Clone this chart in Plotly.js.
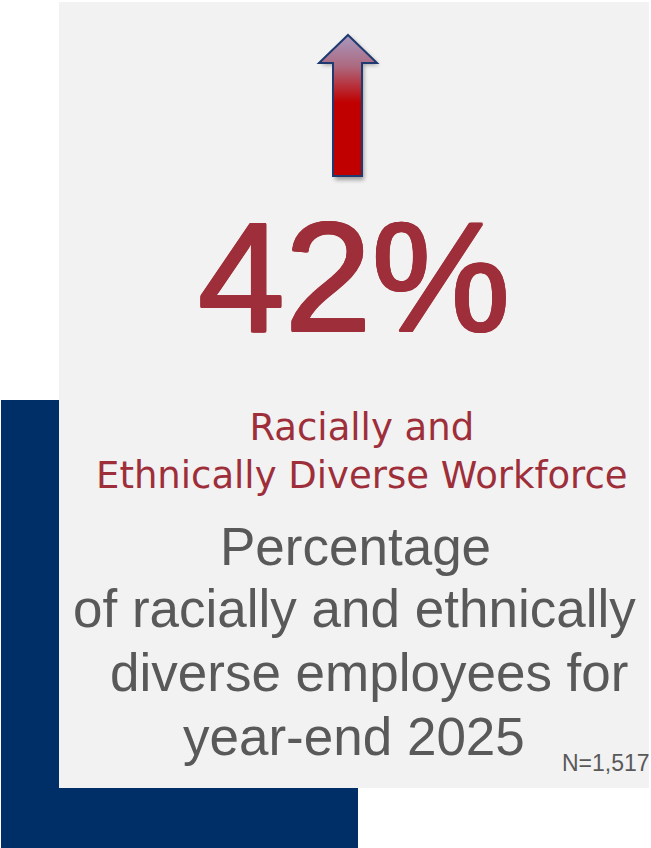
<!DOCTYPE html>
<html>
<head>
<meta charset="utf-8">
<script src="https://cdn.plot.ly/plotly-3.0.1.min.js"></script>
<style>html,body{margin:0;padding:0;background:#fff;}#chart{width:651px;height:848px;}</style>
</head>
<body>
<div id="chart"></div>
<script>
// ---- data ----
const headlineValue = [42];            // percent
const headlineSuffix = ['%'];
const categoryLines = ['Racially and', 'Ethnically Diverse Workforce'];
const descriptionLines = ['Percentage', 'of racially and ethnically', 'diverse employees for', 'year-end 2025'];
const sampleSize = [1517];

// ---- helpers (pixel -> paper) ----
const W = 651, H = 848;
const px = x => x / W;
const py = y => 1 - y / H;

const arrowSvg =
  '<svg xmlns="http://www.w3.org/2000/svg" width="70" height="160" viewBox="0 0 70 160">' +
  '<defs>' +
  '<linearGradient id="g" x1="0" y1="0" x2="0" y2="1">' +
  '<stop offset="0" stop-color="#a899c0"/>' +
  '<stop offset="0.22" stop-color="#ad6a80"/>' +
  '<stop offset="0.48" stop-color="#c00000"/>' +
  '<stop offset="1" stop-color="#c00000"/>' +
  '</linearGradient>' +
  '<filter id="s" x="-30%" y="-10%" width="160%" height="130%"><feGaussianBlur stdDeviation="2.2"/></filter>' +
  '</defs>' +
  '<path d="M34 4 L63 32 L48 32 L48 147 L19 147 L19 32 L5 32 Z" fill="#000" opacity="0.35" filter="url(#s)"/>' +
  '<path d="M32 2 L61 30 L46 30 L46 143 L17 143 L17 30 L3 30 Z" fill="url(#g)" stroke="#1f3a70" stroke-width="2" stroke-linejoin="miter"/>' +
  '</svg>';
const arrowSrc = 'data:image/svg+xml;base64,' + btoa(arrowSvg);

const red = '#9e2f3a';
const grey = '#595959';
const thicken = (c, d) => [
  d + 'px 0 0 ' + c, '-' + d + 'px 0 0 ' + c, '0 ' + d + 'px 0 ' + c, '0 -' + d + 'px 0 ' + c,
  (d * 0.75) + 'px ' + (d * 0.75) + 'px 0 ' + c, '-' + (d * 0.75) + 'px -' + (d * 0.75) + 'px 0 ' + c,
  (d * 0.75) + 'px -' + (d * 0.75) + 'px 0 ' + c, '-' + (d * 0.75) + 'px ' + (d * 0.75) + 'px 0 ' + c
].join(', ');

const annotations = [];
annotations.push({
  text: headlineValue[0] + headlineSuffix[0],
  x: px(354), y: py(277), xref: 'paper', yref: 'paper',
  xanchor: 'center', yanchor: 'middle', showarrow: false,
  font: {family: 'Liberation Sans, Arial, sans-serif', size: 156, color: red, shadow: thicken(red, 1.2)}
});
annotations.push({
  text: categoryLines.join('<br>'), x: px(362), y: py(451), xref: 'paper', yref: 'paper',
  xanchor: 'center', yanchor: 'middle', align: 'center', showarrow: false,
  font: {family: 'DejaVu Sans, sans-serif', size: 37, color: red}
});
const descY = [546, 608, 672, 736];
const descX = [355, 354, 369, 354];
descriptionLines.forEach((t, i) => annotations.push({
  text: t, x: px(descX[i]), y: py(descY[i]), xref: 'paper', yref: 'paper',
  xanchor: 'center', yanchor: 'middle', showarrow: false,
  font: {family: 'Liberation Sans, Arial, sans-serif', size: 53, color: grey}
}));
annotations.push({
  text: 'N=' + sampleSize[0].toLocaleString('en-US'),
  x: px(560), y: py(763), xref: 'paper', yref: 'paper',
  xanchor: 'left', yanchor: 'middle', showarrow: false,
  font: {family: 'Liberation Sans, Arial, sans-serif', size: 23, color: grey}
});

const layout = {
  width: W, height: H,
  margin: {l: 0, r: 0, t: 0, b: 0},
  paper_bgcolor: '#ffffff', plot_bgcolor: 'rgba(0,0,0,0)',
  xaxis: {visible: false, range: [0, 1], fixedrange: true},
  yaxis: {visible: false, range: [0, 1], fixedrange: true},
  showlegend: false,
  shapes: [
    {type: 'rect', xref: 'paper', yref: 'paper', x0: px(1), x1: px(358), y0: py(848), y1: py(400),
     fillcolor: '#002e66', line: {width: 0}, layer: 'below'},
    {type: 'rect', xref: 'paper', yref: 'paper', x0: px(59), x1: px(649), y0: py(788), y1: py(2),
     fillcolor: '#f2f2f2', line: {width: 0}, layer: 'below'}
  ],
  images: [{
    source: arrowSrc, xref: 'paper', yref: 'paper',
    x: px(316), y: py(33), sizex: px(70), sizey: 160 / H,
    xanchor: 'left', yanchor: 'top', sizing: 'stretch', layer: 'above'
  }],
  annotations: annotations
};

Plotly.newPlot('chart', [], layout, {staticPlot: true, displayModeBar: false});
</script>
</body>
</html>
